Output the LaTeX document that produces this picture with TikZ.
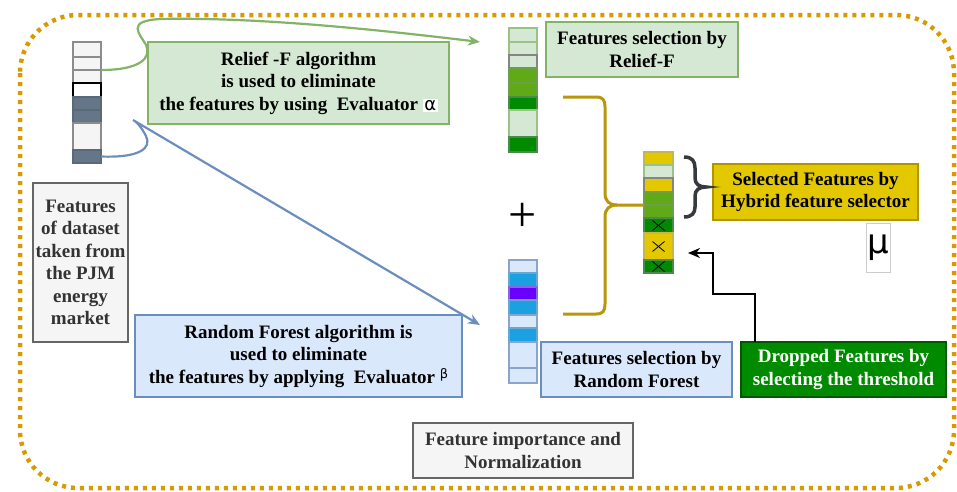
\documentclass[tikz,border=0pt]{standalone}
\usepackage{fontspec}
\setmainfont{Liberation Serif}
\newfontfamily\symfont{DejaVu Sans}
\usetikzlibrary{arrows.meta}

\definecolor{frameorange}{HTML}{D79B00}
\definecolor{lgreen}{HTML}{D5E8D4}
\definecolor{egreen}{HTML}{82B366}
\definecolor{mgreen}{HTML}{60A917}
\definecolor{emgreen}{HTML}{2D7600}
\definecolor{dgreen}{HTML}{008A00}
\definecolor{edgreen}{HTML}{005700}
\definecolor{lblue}{HTML}{DAE8FC}
\definecolor{eblue}{HTML}{6C8EBF}
\definecolor{mblue}{HTML}{1BA1E2}
\definecolor{emblue}{HTML}{006EAF}
\definecolor{violet}{HTML}{6A00FF}
\definecolor{eviolet}{HTML}{3700CC}
\definecolor{lgray}{HTML}{F5F5F5}
\definecolor{egray}{HTML}{666666}
\definecolor{slate}{HTML}{647687}
\definecolor{eslate}{HTML}{314354}
\definecolor{yel}{HTML}{E3C800}
\definecolor{eyel}{HTML}{B09500}
\definecolor{brgold}{HTML}{B8960E}
\definecolor{brdark}{HTML}{36393D}
\definecolor{txtgray}{HTML}{333333}

% one cell of a feature column, given by its corners
\newcommand\cellbox[6]{%
  \node[cell,#6,minimum width={(#4-#2)*1pt},minimum height={(#5-#3)*1pt}]
    (#1) at ({(#2+#4)/2},{(#3+#5)/2}) {};}
% cross marking a dropped feature
\newcommand\crossout[1]{%
  \draw[xmark] ([shift={(-6,-5)}]#1.center) -- ([shift={(6,5)}]#1.center)
               ([shift={(-6,5)}]#1.center) -- ([shift={(6,-5)}]#1.center);}

\begin{document}
\begin{tikzpicture}[x=1pt,y=-1pt,
  cell/.style={inner sep=0pt,outer sep=0pt,line width=1.8pt},
  grayc/.style={fill=lgray,draw=egray!75},
  blackc/.style={fill=white,draw=black,line width=2.2pt},
  slatec/.style={fill=slate,draw=eslate!80},
  lgc/.style={fill=lgreen,draw=egreen!80},
  lggc/.style={fill=lgreen,draw=egray!80},
  mgc/.style={fill=mgreen,draw=emgreen!70},
  dgc/.style={fill=dgreen,draw=edgreen!70},
  lbc/.style={fill=lblue,draw=eblue!80},
  mbc/.style={fill=mblue,draw=emblue!60},
  vic/.style={fill=violet,draw=eviolet!60},
  yc/.style={fill=yel,draw=eyel!70},
  ygc/.style={fill=yel,draw=egray!80},
  xmark/.style={black,line width=0.8pt},
  txt/.style={inner sep=0pt,outer sep=0pt,align=center,line width=1.2pt,
    font=\fontsize{19}{22.5}\selectfont\bfseries},
  greenbox/.style={txt,fill=lgreen,draw=egreen},
  bluebox/.style={txt,fill=lblue,draw=eblue},
  graybox/.style={txt,fill=lgray,draw=egray,text=txtgray},
  flow/.style={line width=2.2pt,-{Stealth[length=12pt,width=10pt]}},
]
\useasboundingbox (0,0) rectangle (957,491);

% dotted frame around the whole process
\draw[frameorange,line width=4.5pt,dash pattern=on 4pt off 5pt,rounded corners=58pt]
  (20,15) rectangle (954,488);

% input feature column
\cellbox{in1}{73}{42}{101}{57}{grayc}
\cellbox{in2}{73}{57}{101}{70}{grayc}
\cellbox{in3}{73}{70}{101}{83}{grayc}
\cellbox{in4}{73}{83}{101}{97}{blackc}
\cellbox{in5}{73}{97}{101}{110}{slatec}
\cellbox{in6}{73}{110}{101}{123}{slatec}
\cellbox{in7}{73}{123}{101}{150}{grayc}
\cellbox{in8}{73}{150}{101}{163}{slatec}

% column selected by Relief-F
\cellbox{r1}{509}{28}{537}{42}{lgc}
\cellbox{r2}{509}{42}{537}{55}{lgc}
\cellbox{r3}{509}{55}{537}{68}{lggc}
\cellbox{r4}{509}{68}{537}{83}{mgc}
\cellbox{r5}{509}{83}{537}{97}{mgc}
\cellbox{r6}{509}{97}{537}{110}{dgc}
\cellbox{r7}{509}{110}{537}{137}{lgc}
\cellbox{r8}{509}{137}{537}{152}{dgc}

% column selected by Random Forest
\cellbox{f1}{509}{260}{537}{273}{lbc}
\cellbox{f2}{509}{273}{537}{287}{mbc}
\cellbox{f3}{509}{287}{537}{300}{vic}
\cellbox{f4}{509}{300}{537}{315}{mbc}
\cellbox{f5}{509}{315}{537}{328}{lbc}
\cellbox{f6}{509}{328}{537}{342}{mbc}
\cellbox{f7}{509}{342}{537}{368}{lbc}
\cellbox{f8}{509}{368}{537}{383}{lbc}

% hybrid column
\cellbox{h1}{644}{152}{673}{165}{yc}
\cellbox{h2}{644}{165}{673}{178}{lgc}
\cellbox{h3}{644}{178}{673}{192}{ygc}
\cellbox{h4}{644}{192}{673}{205}{mgc}
\cellbox{h5}{644}{205}{673}{218}{mgc}
\cellbox{h6}{644}{218}{673}{233}{dgc}
\cellbox{h7}{644}{233}{673}{260}{yc}
\cellbox{h8}{644}{260}{673}{273}{dgc}
\crossout{h6}
\crossout{h7}
\crossout{h8}

% text boxes
\node[greenbox,minimum width=301pt,minimum height=82pt] (relief) at (298.5,83)
  {Relief -F algorithm\\is used to eliminate\\the features by using\ \ Evaluator
   {\setlength\fboxsep{1.5pt}\colorbox{white}{\mdseries\symfont\fontsize{18}{18}\selectfont α}}};
\node[greenbox,minimum width=192pt,minimum height=55pt] (selrelief) at (642,49.5)
  {Features selection by\\Relief-F};
\node[bluebox,minimum width=327pt,minimum height=82pt] (rfalgo) at (298.5,356)
  {Random Forest algorithm is\\used to eliminate\\the features by applying\ \ Evaluator
   \raisebox{5pt}{\mdseries\symfont\fontsize{13}{13}\selectfont β}};
\node[bluebox,minimum width=191pt,minimum height=55pt] (selrf) at (636.5,369.5)
  {Features selection by\\Random Forest};
\node[graybox,minimum width=95pt,minimum height=159pt] (dataset) at (80.5,262.5)
  {Features\\of dataset\\taken from\\the PJM\\energy\\market};
\node[graybox,minimum width=220pt,minimum height=55pt] (norm) at (523,450.5)
  {Feature importance and\\Normalization};
\node[txt,fill=yel,draw=eyel,minimum width=205pt,minimum height=56pt] (hybrid) at (815.5,192)
  {Selected Features by\\Hybrid feature selector};
\node[txt,fill=dgreen,draw=edgreen,text=white,minimum width=205pt,minimum height=55pt] (dropped) at (843.5,369.5)
  {Dropped Features by\\selecting the threshold};
\node[inner sep=0pt,draw=black!20,line width=0.8pt,minimum width=24pt,minimum height=49pt,
  font=\symfont\fontsize{34}{34}\selectfont] (mu) at (878,247.5) {μ};
\node[inner sep=0pt,font=\fontsize{50}{50}\selectfont] (plus) at (523,217) {+};

% connectors from the input column
\coordinate (gend) at (480,42);
\coordinate (bend) at (480,325);
\draw[flow,egreen] (in2.south east) .. controls (140,70) and (152,58) .. (146,45)
  .. controls (140,34) and (125,21) .. (160,19)
  .. controls (260,17) and (380,30) .. (gend);
\draw[flow,eblue] (in8.east) .. controls (140,158) and (152,148) .. (146,136)
  .. controls (142,128) and (136,121) .. (133,120) -- (bend);

% brace joining both selections
\draw[brgold,line width=3pt]
  (563,97) -- (596,97) .. controls (603,97) and (605,100) .. (605,107) -- (605,193)
  .. controls (605,201) and (609,205) .. (617,205) -- (h5.west |- 0,205);
\draw[brgold,line width=3pt]
  (617,205) .. controls (609,205) and (605,209) .. (605,217) -- (605,304)
  .. controls (605,311) and (603,314) .. (596,314) -- (563,314);

% brace over the kept features
\draw[brdark,line width=3.5pt]
  (684,157) .. controls (692,157) and (695,161) .. (695,168) -- (695,178)
  .. controls (695,184) and (699,187) .. (706,187)
  .. controls (699,187) and (695,190) .. (695,196) -- (695,207)
  .. controls (695,213) and (692,217) .. (684,217);

% threshold arrow
\coordinate (dend) at (688,253);
\draw[flow,black] (dropped.north -| 755,0) |- (713,294) |- (dend);
\end{tikzpicture}
\end{document}
